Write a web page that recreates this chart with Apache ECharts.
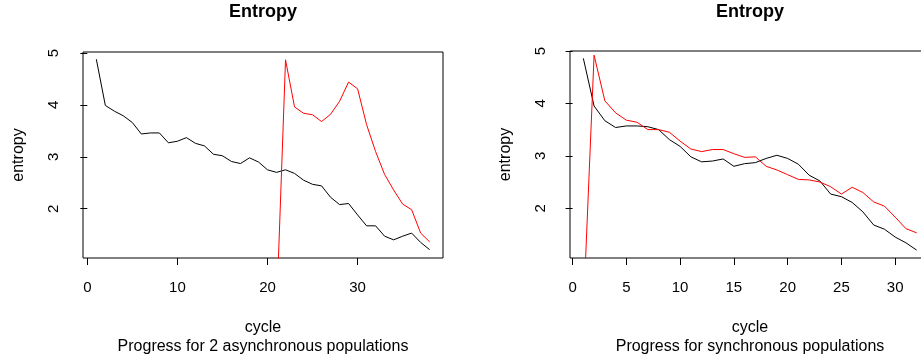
<!DOCTYPE html>
<html>
<head>
<meta charset="utf-8">
<script src="https://cdn.jsdelivr.net/npm/echarts@6/dist/echarts.min.js"></script>
<style>
  html, body { margin: 0; padding: 0; background: #fff; overflow: hidden; }
  /* wider than the window: the right panel's box runs past the picture edge */
  #chart { width: 940px; height: 360px; }
</style>
</head>
<body>
<div id="chart"></div>
<script>
// left panel: 2 asynchronous populations
var cyclesAsync = [1, 2, 3, 4, 5, 6, 7, 8, 9, 10, 11, 12, 13, 14, 15, 16, 17, 18, 19,
  20, 21, 22, 23, 24, 25, 26, 27, 28, 29, 30, 31, 32, 33, 34, 35, 36, 37, 38];
var asyncPop1 = [4.88, 3.99, 3.88, 3.79, 3.66, 3.44, 3.46, 3.46, 3.27, 3.30,
  3.37, 3.26, 3.21, 3.05, 3.02, 2.91, 2.87, 2.98, 2.90, 2.75,
  2.70, 2.75, 2.68, 2.55, 2.47, 2.44, 2.22, 2.08, 2.10, 1.88,
  1.67, 1.67, 1.47, 1.40, 1.47, 1.53, 1.35, 1.21];
var asyncPop2 = [0, 0, 0, 0, 0, 0, 0, 0, 0, 0, 0, 0, 0, 0, 0, 0, 0, 0, 0, 0, 0,
  4.87, 3.96, 3.84, 3.81, 3.68, 3.82, 4.07, 4.44, 4.31,
  3.62, 3.10, 2.66, 2.36, 2.09, 1.98, 1.53, 1.36];

// right panel: synchronous populations
var cyclesSync = [1, 2, 3, 4, 5, 6, 7, 8, 9, 10, 11, 12, 13, 14, 15, 16,
  17, 18, 19, 20, 21, 22, 23, 24, 25, 26, 27, 28, 29, 30, 31, 32];
var syncPop1 = [4.86, 3.95, 3.67, 3.54, 3.57, 3.57, 3.555, 3.50, 3.31, 3.18,
  2.98, 2.885, 2.90, 2.94, 2.80, 2.85, 2.87, 2.95, 3.01, 2.95,
  2.84, 2.63, 2.52, 2.27, 2.22, 2.11, 1.93, 1.68, 1.60, 1.45,
  1.34, 1.20];
var syncPop2 = [0, 4.92, 4.05, 3.82, 3.68, 3.64, 3.50, 3.50, 3.45, 3.28,
  3.13, 3.08, 3.12, 3.12, 3.04, 2.97, 2.98, 2.80, 2.73, 2.64,
  2.55, 2.54, 2.50, 2.41, 2.27, 2.40, 2.30, 2.12, 2.04, 1.83,
  1.61, 1.53];

var xTicksAsync = [0, 10, 20, 30];
var xTicksSync = [0, 5, 10, 15, 20, 25, 30];
var yTicks = [2, 3, 4, 5];

var FONT = 'Liberation Sans, Arial, Helvetica, sans-serif';

function pairs(xs, ys) {
  return xs.map(function (x, i) { return [x, ys[i]]; });
}

function xAxisOpt(idx, min, max, ticks) {
  return {
    type: 'value', gridIndex: idx, min: min, max: max,
    name: 'cycle', nameLocation: 'middle', nameGap: 62,
    nameTextStyle: { color: '#000', fontSize: 16, fontFamily: FONT },
    splitLine: { show: false },
    axisLine: { show: false },
    axisTick: { show: true, length: 7, customValues: ticks, lineStyle: { color: '#000' } },
    axisLabel: { customValues: ticks, margin: 22, color: '#000', fontSize: 15, fontFamily: FONT }
  };
}

function yAxisOpt(idx, min, max) {
  return {
    type: 'value', gridIndex: idx, min: min, max: max,
    name: 'entropy', nameLocation: 'middle', nameGap: 56, nameRotate: 90,
    nameTextStyle: { color: '#000', fontSize: 16, fontFamily: FONT },
    splitLine: { show: false },
    axisLine: { show: false },
    axisTick: { show: true, length: 7, customValues: yTicks, lineStyle: { color: '#000' } },
    axisLabel: { customValues: yTicks, rotate: 90, margin: 22, color: '#000', fontSize: 15, fontFamily: FONT }
  };
}

function lineSeries(idx, data, color) {
  return {
    type: 'line', xAxisIndex: idx, yAxisIndex: idx, data: data,
    showSymbol: false, clip: true, animation: false,
    lineStyle: { color: color, width: 1 }
  };
}

var chart = echarts.init(document.getElementById('chart'));
chart.setOption({
  backgroundColor: '#fff',
  animation: false,
  title: [
    { text: 'Entropy', left: 263, top: 3, textAlign: 'center', padding: 0,
      textStyle: { fontSize: 18, fontWeight: 'bold', color: '#000', fontFamily: FONT } },
    { text: 'Entropy', left: 750, top: 3, textAlign: 'center', padding: 0,
      textStyle: { fontSize: 18, fontWeight: 'bold', color: '#000', fontFamily: FONT } },
    { text: 'Progress for 2 asynchronous populations', left: 263, top: 339, textAlign: 'center', padding: 0,
      textStyle: { fontSize: 16, fontWeight: 'normal', color: '#000', fontFamily: FONT } },
    { text: 'Progress for synchronous populations', left: 750, top: 339, textAlign: 'center', padding: 0,
      textStyle: { fontSize: 16, fontWeight: 'normal', color: '#000', fontFamily: FONT } }
  ],
  grid: [
    { left: 83, top: 52, width: 360, height: 206, show: true, borderColor: '#000', borderWidth: 1, backgroundColor: '#fff' },
    { left: 570, top: 51, width: 360, height: 207, show: true, borderColor: '#000', borderWidth: 1, backgroundColor: '#fff' }
  ],
  xAxis: [
    xAxisOpt(0, -0.48, 39.48, xTicksAsync),
    xAxisOpt(1, -0.24, 33.24, xTicksSync)
  ],
  yAxis: [
    yAxisOpt(0, 1.05, 5.02),
    yAxisOpt(1, 1.05, 5.0)
  ],
  series: [
    lineSeries(0, pairs(cyclesAsync, asyncPop1), '#000'),
    lineSeries(0, pairs(cyclesAsync, asyncPop2), '#ff0000'),
    lineSeries(1, pairs(cyclesSync, syncPop1), '#000'),
    lineSeries(1, pairs(cyclesSync, syncPop2), '#ff0000')
  ]
});
</script>
</body>
</html>
